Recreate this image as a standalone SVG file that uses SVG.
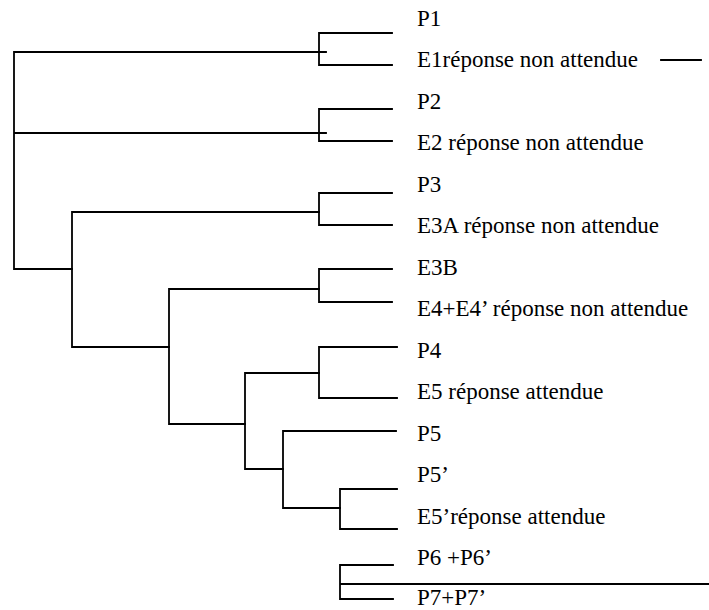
<svg xmlns="http://www.w3.org/2000/svg" width="709" height="610" viewBox="0 0 709 610">
<style>
.l{fill:none;stroke:#000;stroke-width:1.8;stroke-linecap:square}
text{font-family:'Liberation Serif','Times New Roman','DejaVu Serif',serif;font-size:23px;fill:#000}
</style>
<rect width="709" height="610" fill="#fff"/>
<g id="connectors" class="l">
<path d="M14,52V269M14,52H326M14,133H326M14,269H72"/>
<path d="M319,33V65M319,33H392M319,65H392"/>
<path d="M319,109V141M319,109H392M319,141H392"/>
<path d="M72,212V347M72,212H319M72,347H169"/>
<path d="M319,193V225M319,193H392M319,225H392"/>
<path d="M169,289V424M169,289H319M169,424H245"/>
<path d="M319,269V302M319,269H392M319,302H392"/>
<path d="M245,373V469M245,373H319M245,469H283"/>
<path d="M319,347V398M319,347H397M319,398H397"/>
<path d="M283,431V508M283,431H396M283,508H340"/>
<path d="M340,489V529M340,489H397M340,529H397"/>
<path d="M340,565V599M340,565H393M340,599H393M340,584H709"/>
<path d="M661,60H701"/>
</g>
<g id="P1"><text font-family="Liberation Serif, serif" x="417" y="26">P1</text></g>
<g id="E1"><text font-family="Liberation Serif, serif" x="417" y="67">E1réponse non attendue</text></g>
<g id="P2"><text font-family="Liberation Serif, serif" x="417" y="109">P2</text></g>
<g id="E2"><text font-family="Liberation Serif, serif" x="417" y="150">E2 réponse non attendue</text></g>
<g id="P3"><text font-family="Liberation Serif, serif" x="417" y="192">P3</text></g>
<g id="E3A"><text font-family="Liberation Serif, serif" x="417" y="233">E3A réponse non attendue</text></g>
<g id="E3B"><text font-family="Liberation Serif, serif" x="417" y="275">E3B</text></g>
<g id="E4"><text font-family="Liberation Serif, serif" x="417" y="316">E4+E4’ réponse non attendue</text></g>
<g id="P4"><text font-family="Liberation Serif, serif" x="417" y="358">P4</text></g>
<g id="E5"><text font-family="Liberation Serif, serif" x="417" y="399">E5 réponse attendue</text></g>
<g id="P5"><text font-family="Liberation Serif, serif" x="417" y="441">P5</text></g>
<g id="P5b"><text font-family="Liberation Serif, serif" x="417" y="482">P5’</text></g>
<g id="E5b"><text font-family="Liberation Serif, serif" x="417" y="524">E5’réponse attendue</text></g>
<g id="P6"><text font-family="Liberation Serif, serif" x="417" y="565">P6 +P6’</text></g>
<g id="P7"><text font-family="Liberation Serif, serif" x="417" y="605">P7+P7’</text></g>
</svg>
